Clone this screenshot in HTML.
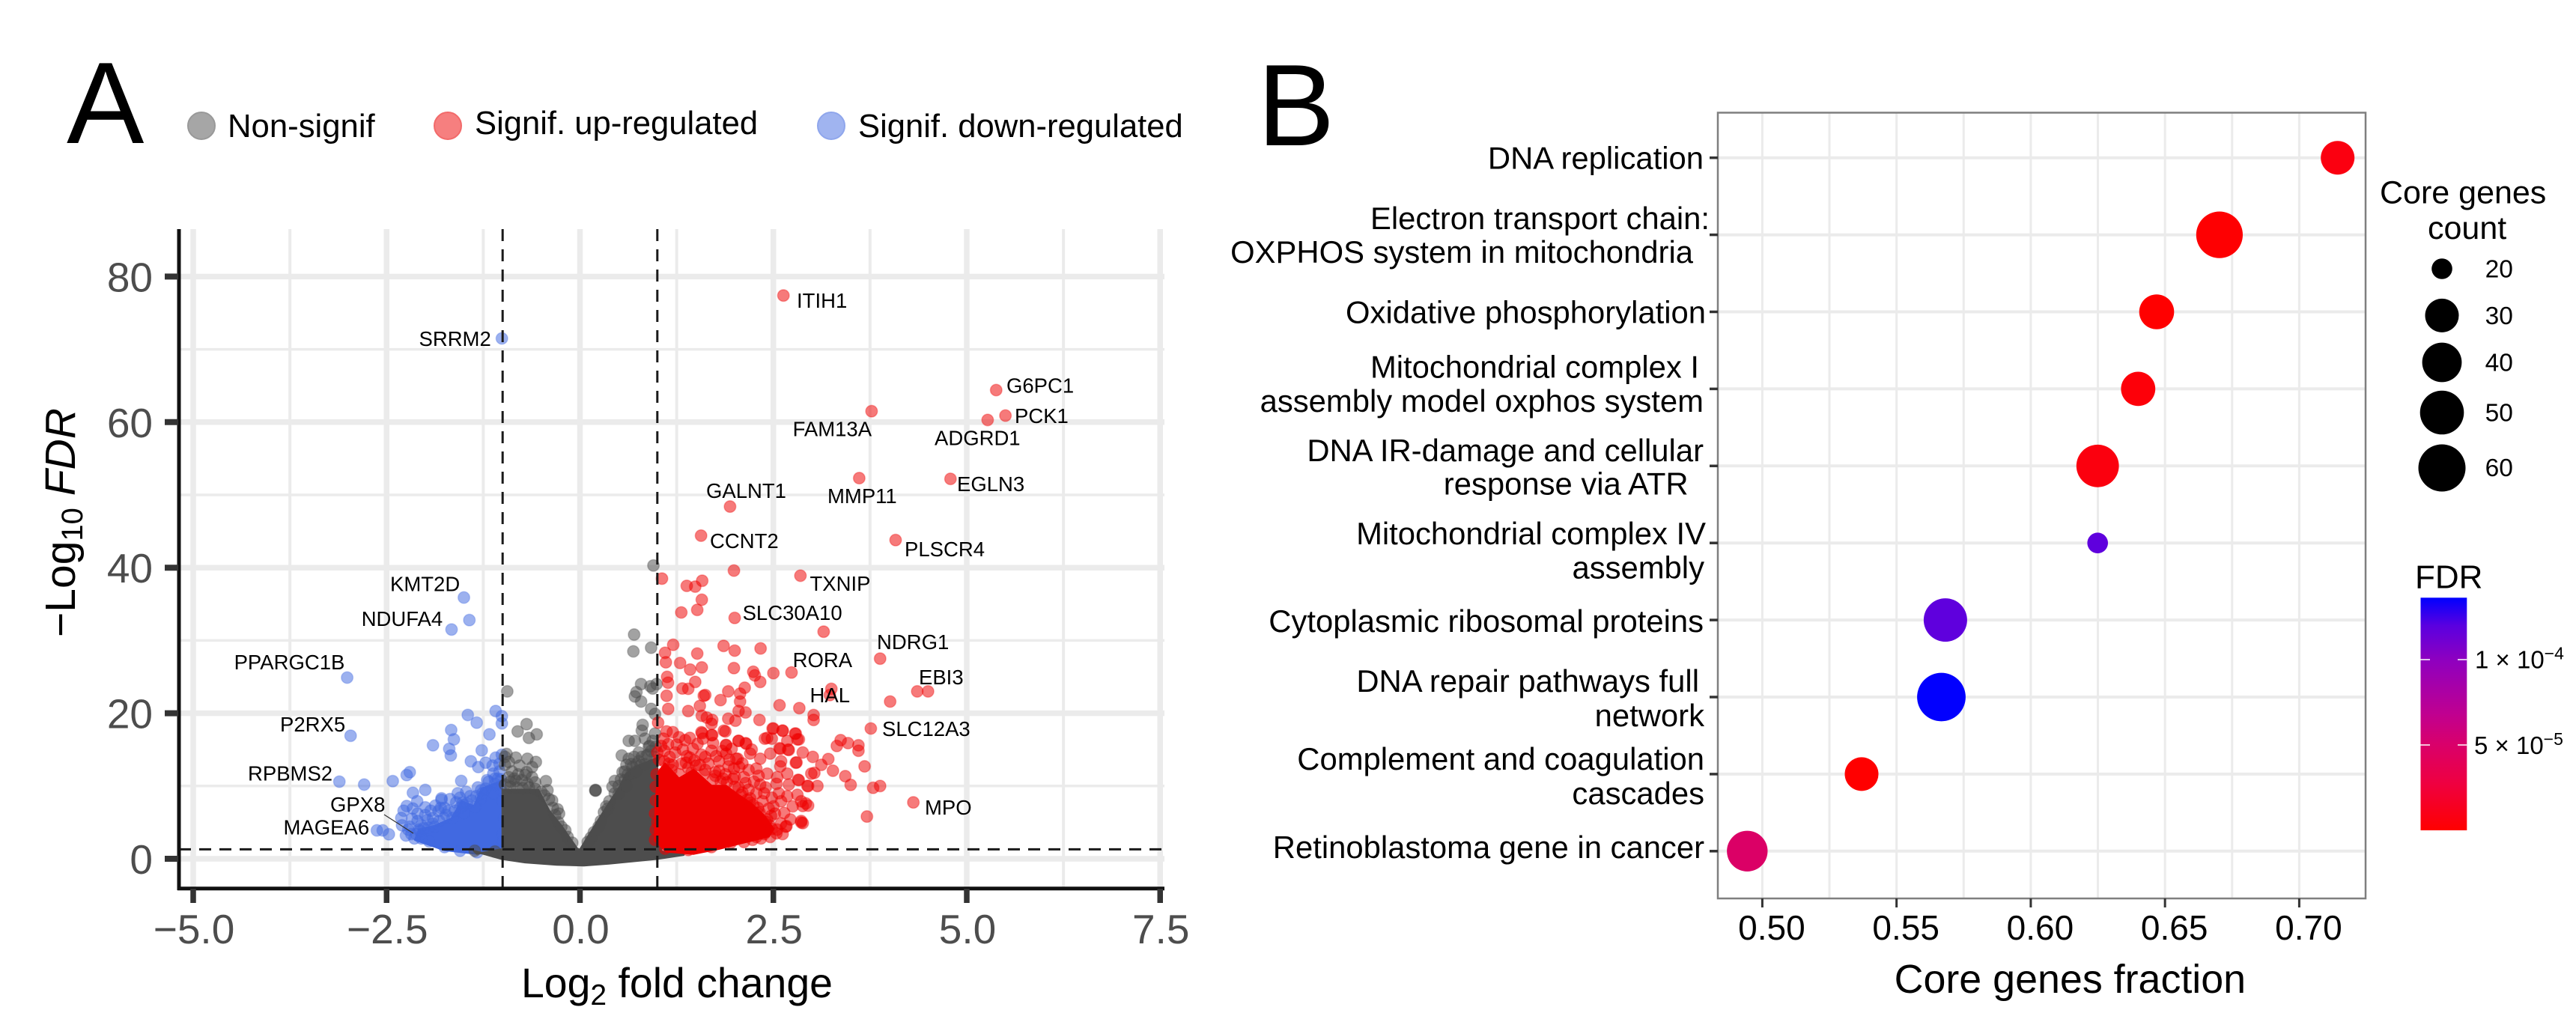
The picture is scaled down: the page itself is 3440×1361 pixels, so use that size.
<!DOCTYPE html>
<html lang="en">
<head>
<meta charset="utf-8">
<title>Volcano plot and enrichment dot plot</title>
<style>
html,body{margin:0;padding:0;background:#fff;}
svg{display:block;}
text{font-family:"Liberation Sans",Arial,sans-serif;fill:#000;}
.gene{font-size:27.5px;}
.cat{font-size:41.8px;text-anchor:end;}
</style>
</head>
<body>
<svg id="figure" xmlns="http://www.w3.org/2000/svg" width="3440" height="1361" viewBox="0 0 3440 1361">
<defs>
<linearGradient id="fdrGradient" x1="0" y1="1" x2="0" y2="0">
<stop offset="0" stop-color="#ff0000"/><stop offset="0.2" stop-color="#ef0040"/><stop offset="0.37" stop-color="#d9006b"/><stop offset="0.5" stop-color="#c00090"/><stop offset="0.73" stop-color="#8f00bf"/><stop offset="0.88" stop-color="#5a00e0"/><stop offset="1" stop-color="#0000ff"/>
</linearGradient>
</defs>
<rect width="3440" height="1361" fill="#fff"/>

<text x="89" y="191" font-size="155">A</text>
<text x="1679" y="194" font-size="155">B</text>

<g>
<circle cx="269" cy="168" r="18" fill="#a6a6a6" stroke="#999" stroke-width="2"/>
<text x="304" y="183" font-size="43.7">Non-signif</text>
<circle cx="598" cy="168" r="18" fill="#f67f7f" stroke="#f26a6a" stroke-width="2"/>
<text x="634" y="179" font-size="43.6">Signif. up-regulated</text>
<circle cx="1110" cy="168" r="18" fill="#a0b4f0" stroke="#8fa6ec" stroke-width="2"/>
<text x="1146" y="183" font-size="43.6">Signif. down-regulated</text>
</g>

<g id="volcanoGrid"></g>
<g id="volcanoMarks"></g>
<g id="volcanoAxes"></g>

<g>
<text class="gene" x="1064" y="411">ITIH1</text>
<text class="gene" x="559.5" y="462">SRRM2</text>
<text class="gene" x="1344" y="524.5">G6PC1</text>
<text class="gene" x="1355" y="565">PCK1</text>
<text class="gene" x="1058.6" y="582.6">FAM13A</text>
<text class="gene" x="1248" y="594.6">ADGRD1</text>
<text class="gene" x="943" y="665">GALNT1</text>
<text class="gene" x="1105" y="672">MMP11</text>
<text class="gene" x="1278" y="656">EGLN3</text>
<text class="gene" x="948" y="732">CCNT2</text>
<text class="gene" x="1208" y="743">PLSCR4</text>
<text class="gene" x="1081.5" y="789">TXNIP</text>
<text class="gene" x="991.6" y="828">SLC30A10</text>
<text class="gene" x="1171" y="867">NDRG1</text>
<text class="gene" x="1058.6" y="891">RORA</text>
<text class="gene" x="1227" y="914">EBI3</text>
<text class="gene" x="1081.5" y="938">HAL</text>
<text class="gene" x="1178" y="983">SLC12A3</text>
<text class="gene" x="1235" y="1088">MPO</text>
<text class="gene" x="521" y="789.5">KMT2D</text>
<text class="gene" x="482.7" y="836">NDUFA4</text>
<text class="gene" x="312.6" y="894">PPARGC1B</text>
<text class="gene" x="374" y="977">P2RX5</text>
<text class="gene" x="331" y="1042.6">RPBMS2</text>
<text class="gene" x="441" y="1084">GPX8</text>
<text class="gene" x="378.5" y="1114.5">MAGEA6</text>
<line x1="513" y1="1088" x2="552" y2="1113" stroke="#333" stroke-width="1.2"/>
</g>

<text transform="translate(100 851) rotate(-90)" font-size="57">−Log<tspan font-size="40" dy="10">10</tspan><tspan dy="-10"> </tspan><tspan font-style="italic">FDR</tspan></text>
<text x="696" y="1332" font-size="55.4">Log<tspan font-size="39" dy="10">2</tspan><tspan dy="-10"> fold change</tspan></text>

<g id="dotGrid"></g>
<g id="dotMarks"></g>
<g id="dotAxes"></g>

<g>
<text class="cat" x="2275" y="225.5">DNA replication</text>
<text class="cat" x="2283" y="306">Electron transport chain:</text>
<text class="cat" x="2261" y="351">OXPHOS system in mitochondria</text>
<text class="cat" x="2278" y="431.7">Oxidative phosphorylation</text>
<text class="cat" x="2269" y="504.5">Mitochondrial complex I</text>
<text class="cat" x="2275" y="550">assembly model oxphos system</text>
<text class="cat" x="2275" y="616">DNA IR-damage and cellular</text>
<text class="cat" x="2254.6" y="660.7">response via ATR</text>
<text class="cat" x="2278" y="727">Mitochondrial complex IV</text>
<text class="cat" x="2276" y="772.5">assembly</text>
<text class="cat" x="2275" y="844">Cytoplasmic ribosomal proteins</text>
<text class="cat" x="2269" y="924">DNA repair pathways full</text>
<text class="cat" x="2276" y="970">network</text>
<text class="cat" x="2276" y="1028">Complement and coagulation</text>
<text class="cat" x="2276" y="1074">cascades</text>
<text class="cat" x="2276" y="1146">Retinoblastoma gene in cancer</text>
</g>
<text x="2529.6" y="1326" font-size="53.8">Core genes fraction</text>

<g>
<text x="3178" y="271.4" font-size="43">Core genes</text>
<text x="3242" y="319" font-size="43">count</text>
<circle cx="3261" cy="359" r="13.8" fill="#000"/>
<text x="3318.6" y="370.5" font-size="33.5">20</text>
<circle cx="3261" cy="421.4" r="22.5" fill="#000"/>
<text x="3318.6" y="433" font-size="33.5">30</text>
<circle cx="3261" cy="484" r="26.4" fill="#000"/>
<text x="3318.6" y="495.5" font-size="33.5">40</text>
<circle cx="3261" cy="551" r="29.3" fill="#000"/>
<text x="3318.6" y="562.5" font-size="33.5">50</text>
<circle cx="3261" cy="625" r="31.5" fill="#000"/>
<text x="3318.6" y="636" font-size="33.5">60</text>
</g>

<g>
<text x="3225" y="785.7" font-size="44">FDR</text>
<rect x="3232.5" y="798.3" width="61.8" height="310.7" fill="url(#fdrGradient)"/>
<g stroke="#fff" stroke-opacity="0.75" stroke-width="2">
<line x1="3232.5" x2="3245" y1="881" y2="881"/>
<line x1="3282" x2="3294.3" y1="881" y2="881"/>
<line x1="3232.5" x2="3245" y1="995" y2="995"/>
<line x1="3282" x2="3294.3" y1="995" y2="995"/>
</g>
<text x="3305" y="892.7" font-size="33">1 × 10<tspan font-size="23" dy="-12">−4</tspan></text>
<text x="3304" y="1007" font-size="33">5 × 10<tspan font-size="23" dy="-12">−5</tspan></text>
</g>
</svg>

<script>
/* ---------- Panel A data: [log2 fold change, -log10 FDR] ---------- */
var upRegulatedPoints = [
[2.63,77.4],[3.77,61.5],[5.38,64.4],[5.50,60.9],[5.27,60.3],[3.61,52.3],[4.79,52.2],[1.94,48.4],
[1.565,44.4],[4.08,43.8],[1.99,39.6],[2.85,38.9],[1.06,38.5],[1.38,37.5],[1.49,37.4],[1.58,38.2],
[1.575,35.6],[1.516,34.2],[1.31,33.85],[2.0,33.1],[3.15,31.2],[1.205,29.4],[1.10,28.3],[1.11,27.0],
[1.516,28.2],[1.857,29.25],[2.0,28.6],[2.335,28.9],[1.294,26.9],[1.424,26.0],[1.575,26.3],[1.99,26.2],
[3.88,27.5],[1.127,25.0],[1.138,24.2],[2.24,25.7],[2.26,25.2],[2.33,24.3],[2.50,25.5],[2.735,25.6],
[1.49,24.3],[1.324,23.4],[1.40,23.35],[1.62,22.5],[1.60,22.4],[1.12,22.4],[2.13,23.5],[1.917,23.0],
[2.07,22.7],[1.817,21.8],[2.07,21.6],[3.25,23.35],[3.23,22.5],[4.36,23.0],[4.50,23.0],[4.01,21.6],
[1.14,20.6],[1.40,20.3],[1.55,21.0],[2.58,21.1],[2.835,20.7],[3.02,19.75],[3.02,19.07],[2.05,20.3],
[2.14,20.1],[2.32,19.07],[1.575,19.65],[1.64,19.4],[1.71,19.07],[1.70,18.55],[1.917,19.25],[2.01,18.97],
[1.01,18.7],[3.76,17.9],[3.37,16.3],[3.32,15.5],[3.465,15.9],[3.60,15.6],[3.60,14.85],[3.68,12.7],
[2.50,17.9],[2.62,17.6],[2.79,17.2],[2.81,16.4],[2.42,16.6],[2.48,16.5],[1.86,17.6],[1.58,17.25],
[1.71,17.0],[2.05,16.2],[2.14,15.9],[1.887,15.65],[2.58,15.2],[2.69,15.0],[2.88,14.6],[3.01,14.0],
[3.21,13.7],[3.12,12.9],[3.27,12.1],[3.43,11.35],[3.50,10.15],[3.79,9.75],[3.88,10.0],[4.31,7.75],
[3.71,5.8],[2.88,7.25],[2.95,7.3],[2.86,5.0],[2.88,4.9],[2.66,4.4],[2.99,11.7],[3.03,11.8],
[2.95,10.0],[3.07,10.0],[2.82,10.85],[2.79,13.2],
[1.12,17.5],[1.20,17.4],[1.28,16.7],[1.36,16.3],[1.42,16.6],[1.57,17.4],[1.59,16.5],[1.70,17.0],
[1.88,17.5],[1.14,15.75],[1.09,14.85],[1.23,14.6],[1.38,14.1],[1.46,15.1],[1.57,14.3],[1.70,14.85],
[1.89,15.6],[2.05,16.2],[2.15,15.8],[2.02,13.75],[1.89,14.45],[2.2,14.45],[2.33,13.75],[2.39,16.5],
[2.49,17.9],[2.62,17.6],[2.78,17.2],[2.83,16.4],[2.59,15.1],[2.68,16.2],[2.7,14.95],[2.46,14.45],
[2.8,13.24],[2.6,13.4],[2.28,12.4],[2.42,11.7],[2.31,11.4],[2.59,12.7],[2.68,11.7],[2.83,10.8],
[2.54,10.3],[2.18,9.5],[2.12,11.2],[1.92,12.7],[2.04,13.75],[1.99,12.4],[1.8,13.4],[2.57,9.0],
[2.38,9.0],[2.5,7.2],[2.68,8.6],[2.81,8.8],[2.75,7.2],[2.86,7.9],[2.92,7.6],[2.47,5.9],
[2.6,4.85],[2.67,4.5],[2.86,5.2],[2.94,10.0],[1.15,13.07],[1.31,13.07],[1.09,13.4],
[2.12,2.3],[2.23,2.6],[2.34,2.8],[2.46,3.0],[2.54,3.5],[1.44,11.8],[1.6,11.6],[1.75,11.9],
[1.85,11.0],[2.05,9.8],[2.2,8.3],[2.3,7.0],[2.42,5.4],[1.0,5.0],[0.98,8.0],[0.97,2.6],
[1.02,13.6],[1.05,15.5],[1.08,16.5],[1.16,14.0],[1.2,12.9],[1.25,15.7],[1.33,15.0],[1.37,13.2],
[1.42,13.9],[1.48,13.5],[1.52,15.8],[1.55,12.9],[1.62,14.0],[1.66,13.1],[1.72,15.9],[1.76,14.1],
[1.8,12.1],[1.84,14.8],[1.88,11.6],[1.93,13.6],[1.96,15.1],[2.0,11.3],[2.06,12.6],[2.1,13.1],
[2.14,10.4],[2.18,12.2],[2.22,15.0],[2.25,10.6],[2.28,9.0],[2.33,10.2],[2.36,7.9],[2.4,9.8],
[2.44,6.9],[2.48,8.4],[2.52,6.2],[2.55,11.2],[2.6,7.9],[2.64,6.3],[2.7,10.2],[2.72,5.4],
[2.2,7.7],[2.3,6.3],[2.1,9.1],[1.98,11.0],[1.75,11.4],[2.45,4.6],[2.35,5.2],[2.55,4.0],[2.62,3.4],
[1.18,12.2],[1.28,11.6],[1.4,12.5],[1.5,12.8],[1.62,12.2],[1.72,10.9],[1.82,10.6],[1.9,10.5],[2.0,9.9],[2.08,8.8],
[2.16,8.1],[2.24,7.4],[2.32,6.4],[2.4,5.1],[2.48,4.1],[2.38,3.4],[2.28,3.0],[1.95,2.2],[1.7,1.6],[1.4,1.2],[1.1,1.4],[0.98,4.0],[0.97,6.2],[0.98,9.9],[0.99,11.6],[1.0,14.6]
];
var downRegulatedPoints = [
[-1.01,71.5],[-1.50,35.9],[-1.43,32.8],[-1.66,31.5],[-3.01,24.9],[-2.965,16.9],[-3.11,10.6],[-2.79,10.2],
[-2.42,10.67],[-2.24,11.5],[-2.20,11.9],[-1.45,19.76],[-1.335,18.7],[-1.09,20.3],[-1.01,19.6],[-1.01,18.6],
[-1.17,17.1],[-1.665,17.7],[-1.63,16.4],[-1.90,15.6],[-1.69,15.1],[-1.67,14.2],[-1.27,14.9],[-1.41,13.4],
[-1.315,12.6],[-1.22,13.2],[-1.13,12.8],[-1.09,13.9],[-1.01,14.3],[-1.12,11.7],[-1.04,12.0],[-1.04,13.05],
[-1.535,10.7],[-2.0,9.47],[-2.16,9.06],[-1.47,9.2],[-1.32,9.8],[-1.22,9.64],[-1.10,10.3],[-1.79,8.1],
[-1.79,8.3],[-2.105,7.9],[-2.24,7.24],[-2.16,6.9],[-2.0,7.07],[-1.6,7.75],[-1.51,7.4],[-2.31,5.6],
[-2.17,5.5],[-1.97,5.35],[-1.83,6.55],[-1.73,6.04],[-2.625,3.9],[-2.55,3.9],[-2.47,3.36],[-2.25,3.2],
[-2.14,2.8],[-2.07,3.8],[-1.28,8.3],[-1.12,9.0],[-1.02,9.5],[-1.0,7.9],[-0.98,5.6],[-1.0,3.4],[-0.99,2.4],
[-2.05,4.6],[-2.2,4.4],[-1.9,5.6],[-1.75,7.0],[-1.55,8.4],[-1.2,10.8],[-1.06,11.0],
[-1.02,10.9],[-1.1,11.0],[-1.18,10.6],[-1.26,9.0],[-1.34,8.6],[-1.4,8.0],[-1.46,7.6],[-1.55,7.0],[-1.62,6.6],
[-1.7,6.6],[-1.76,5.6],[-1.82,5.2],[-1.9,4.8],[-1.96,4.3],[-2.02,4.2],[-2.12,3.4],[-2.18,3.4],[-2.22,4.0],
[-2.3,4.6],[-2.0,6.0],[-1.93,6.6],[-1.87,7.3],[-1.8,7.0],[-2.1,6.2],[-2.28,6.6],[-2.1,5.2],[-1.68,8.2],[-1.58,9.0],[-1.42,8.6],[-1.5,6.3],
[-1.28,9.4],[-1.36,7.1],[-1.52,7.7],[-1.65,5.6],[-1.88,4.4],[-2.08,4.0],[-2.05,2.8],[-1.95,2.4],[-1.75,1.6],[-1.55,1.1],[-1.33,0.9]
];
var nonSignificantPoints = [
[0.95,40.3],[0.70,30.8],[0.69,28.5],[0.92,29.0],
[-0.94,23],[-0.69,18.5],[-0.805,17.5],[-0.56,17.1],[-0.66,16.6],[-0.95,14.4],[-0.83,13.9],[-0.68,13.75],
[-0.57,13.3],[-0.97,12.9],[-0.69,11.9],[-0.8,11.6],[-0.71,11.5],[-0.83,10.7],[-0.58,10.5],[-0.44,10.67],
[-0.68,10.3],[-0.42,9.4],[-0.36,8.0],[-0.29,6.8],[-0.27,6.2],[-0.19,3.9],[-0.88,12.0],[-0.75,10.8],[-0.9,10.6],
[0.2,9.4],[0.2,9.45],[0.2,9.35],[0.45,10.7],[0.53,10.9],[0.54,14.2],[0.63,16.2],[0.71,16.2],[0.81,18.4],[0.80,17.6],
[0.97,17.2],[0.9,15.5],[0.89,15.4],[0.84,16.5],[0.76,14.6],[0.63,13.75],[0.6,12.9],[0.92,20.6],[0.97,19.9],
[0.79,21.6],[0.71,22.3],[0.73,22.9],[0.79,24],[0.91,23.7],[0.99,24],[0.94,23.4],[0.31,6.4],[0.36,6.9],[0.18,3.65],
[0.73,13.0],[0.86,14.2],[0.67,11.7],[0.79,12.9],[0.55,11.9],[0.42,9.9],
[-1.36,1.1],[-1.1,1.0],
[0.45,9.0],[0.5,10.0],[0.58,10.8],[0.62,11.6],[0.68,12.6],[0.72,12.0],[0.76,13.4],[0.8,14.0],[0.84,13.0],[0.88,14.3],
[0.92,14.8],[0.96,14.0],[0.98,15.4],[0.94,16.2],[0.7,14.0],[0.66,13.0],[0.58,12.0],[0.38,7.9],[0.34,7.2],[0.27,5.2],
[0.24,4.4],[0.14,2.9],[0.1,2.3],[0.5,8.9],[0.6,10.0],
[-0.97,10.2],[-0.9,9.9],[-0.82,9.8],[-0.74,9.7],[-0.66,9.8],[-0.58,9.6],[-0.5,9.2],[-0.46,8.7],[-0.4,8.2],[-0.35,7.0],
[-0.32,6.0],[-0.28,5.0],[-0.24,4.4],[-0.16,3.0],[-0.1,2.2],[-0.92,11.2],[-0.85,11.0],[-0.62,11.2],[-0.97,14.0],[-0.92,13.3],[-0.78,12.8],[-0.62,12.6]
];
/* dense, fully overlapped clouds traced as outlines in data units */
var nonSignificantCloud = [[-1.33,0.7],[-1.0,1.3],[-1.0,9.46],[-0.54,9.46],[-0.40,6.6],[-0.24,4.5],[-0.04,1.4],[0,1.2],[0.05,2.1],[0.25,5.5],[0.41,8.2],[0.5,9.6],[0.6,11.7],[0.73,12.7],[0.99,13.8],[1.05,1.0],[1.34,0.55],[0.99,0],[0.375,-0.65],[0.05,-0.9],[-0.3,-0.8],[-0.71,-0.47],[-1.01,0.0],[-1.37,1.06]];
var downRegulatedCloud = [[-1.01,10.7],[-1.27,9.6],[-1.37,7.2],[-1.53,7.9],[-1.66,5.5],[-1.88,4.5],[-2.08,4.0],[-2.13,2.6],[-1.75,1.2],[-1.33,0.7],[-0.98,1.4]];
var upRegulatedCloud = [[1.02,12.0],[1.10,13.07],[1.28,11],[1.47,12.2],[1.70,10],[1.89,10],[2.02,8.95],[2.21,7.6],[2.38,5.9],[2.5,4.1],[2.44,3.1],[2.06,2.1],[1.8,1.4],[1.47,0.7],[1.12,1.0],[0.97,2.5],[0.98,8]];
var volcanoXTicks = [-5,-2.5,0,2.5,5,7.5];
var volcanoXTickLabels = ['−5.0','−2.5','0.0','2.5','5.0','7.5'];
var volcanoXMinor = [-3.75,-1.25,1.25,3.75,6.25];
var volcanoYTicks = [0,20,40,60,80];
var volcanoYTickLabels = ['0','20','40','60','80'];
var volcanoYMinor = [10,30,50,70];
var foldChangeCutoffs = [-1,1];
var fdrCutoff = 1.3;

/* ---------- Panel B data ---------- */
var pathwayNames = ['DNA replication','Electron transport chain','Oxidative phosphorylation','Mitochondrial complex I','DNA IR-damage','Mitochondrial complex IV','Cytoplasmic ribosomal proteins','DNA repair pathways','Complement and coagulation','Retinoblastoma gene in cancer'];
var coreFraction = [0.7143,0.6703,0.6469,0.64,0.6249,0.6249,0.5682,0.5667,0.537,0.4944];
var coreCount = [30,58,32,31,47,20,49,64,30,43];
var pathwayFdr = [7e-6,1e-6,1e-7,4e-6,6e-6,1.18e-4,1.18e-4,1.36e-4,2e-7,4.8e-5];
var dotXTicks = [0.50,0.55,0.60,0.65,0.70];
var dotXTickLabels = ['0.50','0.55','0.60','0.65','0.70'];
var dotXMinor = [0.525,0.575,0.625,0.675];
var sizeBreaks = [20,30,40,50,60];

/* ---------- scales ---------- */
var NS = 'http://www.w3.org/2000/svg';
function make(tag, parent, attrs){
  var el = document.createElementNS(NS, tag);
  for (var k in attrs) el.setAttribute(k, attrs[k]);
  parent.appendChild(el);
  return el;
}
function vx(v){ return 774.5 + v * 103.3; }
function vy(v){ return 1147 - v * 9.72; }
function dx(v){ return 2353.4 + (v - 0.5) * 3585; }
function dy(i){ return 210.7 + i * 102.9; }
function diameter(count){
  var range = [27.5,45,52.7,58.5,63];
  for (var i = 0; i < sizeBreaks.length - 1; i++) {
    if (count <= sizeBreaks[i + 1]) {
      var t = (count - sizeBreaks[i]) / (sizeBreaks[i + 1] - sizeBreaks[i]);
      return range[i] + t * (range[i + 1] - range[i]);
    }
  }
  return 63 + (count - 60) * 0.45;
}
function fdrColor(v){
  var stops = [[0,255,0,0],[0.2,239,0,64],[0.37,217,0,107],[0.5,192,0,144],[0.73,143,0,191],[0.88,90,0,224],[1,0,0,255]];
  var t = Math.min(1, Math.max(0, v / 1.363e-4));
  for (var i = 0; i < stops.length - 1; i++) {
    var a = stops[i], b = stops[i + 1];
    if (t <= b[0]) {
      var u = (t - a[0]) / (b[0] - a[0]);
      return 'rgb(' + Math.round(a[1] + u * (b[1] - a[1])) + ',' + Math.round(a[2] + u * (b[2] - a[2])) + ',' + Math.round(a[3] + u * (b[3] - a[3])) + ')';
    }
  }
  return 'rgb(0,0,255)';
}

/* ---------- Panel A grid ---------- */
var vGrid = document.getElementById('volcanoGrid');
volcanoXMinor.forEach(function(v){
  var el = make('line', vGrid, {x1:vx(v), x2:vx(v), y1:306, y2:1185, stroke:'#ebebeb', 'stroke-width':4});
  
  
});
volcanoYMinor.forEach(function(v){
  var el = make('line', vGrid, {x1:239, x2:1555, y1:vy(v), y2:vy(v), stroke:'#ebebeb', 'stroke-width':3.5});
  
  
});
volcanoXTicks.forEach(function(v){
  var el = make('line', vGrid, {x1:vx(v), x2:vx(v), y1:306, y2:1185, stroke:'#ebebeb', 'stroke-width':7.5});
  
  
});
volcanoYTicks.forEach(function(v){
  var el = make('line', vGrid, {x1:239, x2:1555, y1:vy(v), y2:vy(v), stroke:'#ebebeb', 'stroke-width':7.5});
  
  
});

/* ---------- Panel A marks ---------- */
var vMarks = document.getElementById('volcanoMarks');
function drawCloud(outline, color, name){
  var pts = outline.map(function(p){ return vx(p[0]).toFixed(1) + ',' + vy(p[1]).toFixed(1); }).join(' ');
  var el = make('polygon', vMarks, {points:pts, fill:color, stroke:color, 'stroke-width':3, 'stroke-linejoin':'round'});
  
  
}
function drawDots(points, color, name){
  points.forEach(function(p){
    var el = make('circle', vMarks, {cx:vx(p[0]).toFixed(1), cy:vy(p[1]).toFixed(1), r:7.8, fill:color, 'fill-opacity':0.52, stroke:color, 'stroke-opacity':0.3, 'stroke-width':1.5});
    
    
  });
}
drawCloud(downRegulatedCloud, '#4169e1', 'down-regulated-cloud');
drawDots(downRegulatedPoints, '#4169e1', 'down-regulated-point');
drawCloud(nonSignificantCloud, '#4d4d4d', 'non-significant-cloud');
drawDots(nonSignificantPoints, '#4d4d4d', 'non-significant-point');
drawCloud(upRegulatedCloud, '#ee0000', 'up-regulated-cloud');
drawDots(upRegulatedPoints, '#ee0000', 'up-regulated-point');

/* ---------- Panel A axes ---------- */
var vAxes = document.getElementById('volcanoAxes');
foldChangeCutoffs.forEach(function(v){
  var el = make('line', vAxes, {x1:vx(v), x2:vx(v), y1:306, y2:1185, stroke:'#1a1a1a', 'stroke-width':3, 'stroke-dasharray':'16 11'});
  
  
});
var fdrLine = make('line', vAxes, {x1:239, x2:1555, y1:vy(fdrCutoff), y2:vy(fdrCutoff), stroke:'#1a1a1a', 'stroke-width':3, 'stroke-dasharray':'16 11'});


var yAxisLine = make('line', vAxes, {x1:239, x2:239, y1:306, y2:1189, stroke:'#111', 'stroke-width':5});


var xAxisLine = make('line', vAxes, {x1:237, x2:1555, y1:1186.7, y2:1186.7, stroke:'#111', 'stroke-width':5});


volcanoXTicks.forEach(function(v, i){
  var tick = make('line', vAxes, {x1:vx(v), x2:vx(v), y1:1187, y2:1206, stroke:'#333', 'stroke-width':7.5});
  
  
  var label = make('text', vAxes, {x:vx(v) + 1, y:1260, 'font-size':55, 'text-anchor':'middle', style:'fill:#4d4d4d'});
  label.textContent = volcanoXTickLabels[i];
  
  
});
volcanoYTicks.forEach(function(v, i){
  var tick = make('line', vAxes, {x1:220, x2:238, y1:vy(v), y2:vy(v), stroke:'#333', 'stroke-width':8});
  
  
  var label = make('text', vAxes, {x:204, y:vy(v) + 20, 'font-size':55, 'text-anchor':'end', style:'fill:#4d4d4d'});
  label.textContent = volcanoYTickLabels[i];
  
  
});

/* ---------- Panel B ---------- */
var dGrid = document.getElementById('dotGrid');
dotXTicks.concat(dotXMinor).forEach(function(v){
  var el = make('line', dGrid, {x1:dx(v), x2:dx(v), y1:151, y2:1200, stroke:'#ebebeb', 'stroke-width':3});
  
  
});
pathwayNames.forEach(function(name, i){
  var el = make('line', dGrid, {x1:2294, x2:3159, y1:dy(i), y2:dy(i), stroke:'#ebebeb', 'stroke-width':4});
  
  
});
var dMarks = document.getElementById('dotMarks');
pathwayNames.forEach(function(name, i){
  var el = make('circle', dMarks, {cx:dx(coreFraction[i]).toFixed(1), cy:dy(i).toFixed(1), r:(diameter(coreCount[i]) / 2).toFixed(1), fill:fdrColor(pathwayFdr[i])});
  
  
});
var dAxes = document.getElementById('dotAxes');
var panelBorder = make('rect', dAxes, {x:2294, y:150.5, width:865, height:1049.5, fill:'none', stroke:'#7f7f7f', 'stroke-width':2.5});


pathwayNames.forEach(function(name, i){
  var tick = make('line', dAxes, {x1:2283, x2:2294, y1:dy(i), y2:dy(i), stroke:'#333', 'stroke-width':3.5});
  
  
});
dotXTicks.forEach(function(v, i){
  var tick = make('line', dAxes, {x1:dx(v), x2:dx(v), y1:1200, y2:1212, stroke:'#333', 'stroke-width':3});
  
  
  var label = make('text', dAxes, {x:dx(v) + 12.5, y:1255, 'font-size':46, 'text-anchor':'middle'});
  label.textContent = dotXTickLabels[i];
  
  
});
</script>
</body>
</html>
